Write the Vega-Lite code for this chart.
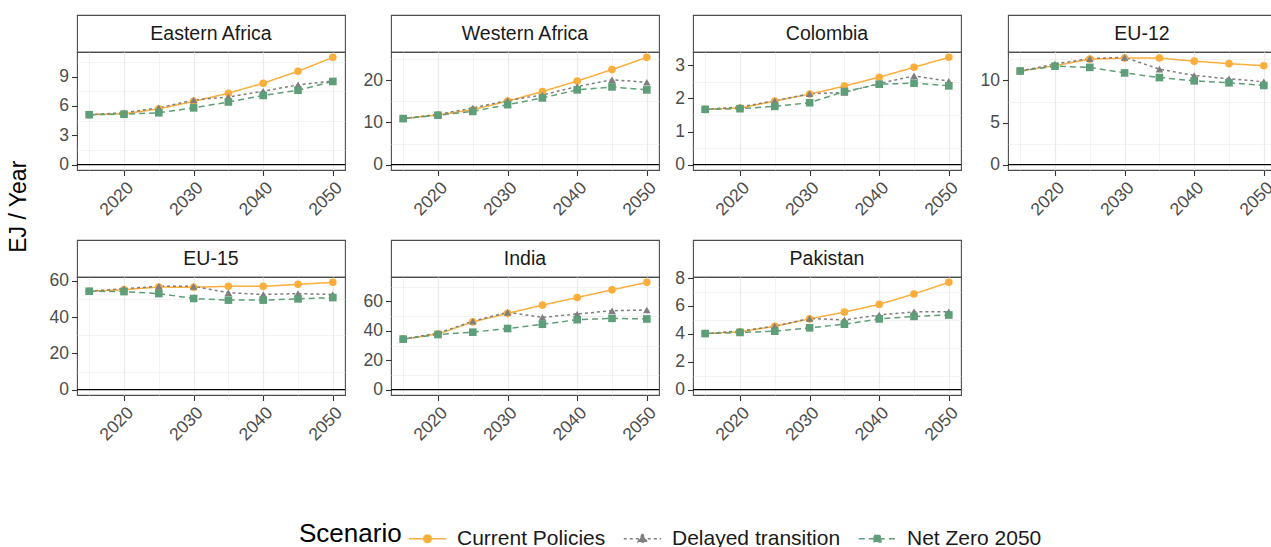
{
  "$schema": "https://vega.github.io/schema/vega-lite/v6.json",
  "padding": {"left": 8, "top": 14, "right": 5, "bottom": 0},
  "background": "white",
  "title": {"text": "EJ / Year", "orient": "left", "anchor": "middle", "fontSize": 23, "fontWeight": "normal", "color": "black", "font": "Liberation Sans", "offset": 11, "dx": 75},
  "datasets": {
    "energy": [
      {"region": "Eastern Africa", "scenario": "Current Policies", "year": 2015, "value": 5.11},
      {"region": "Eastern Africa", "scenario": "Current Policies", "year": 2020, "value": 5.2},
      {"region": "Eastern Africa", "scenario": "Current Policies", "year": 2025, "value": 5.7},
      {"region": "Eastern Africa", "scenario": "Current Policies", "year": 2030, "value": 6.46},
      {"region": "Eastern Africa", "scenario": "Current Policies", "year": 2035, "value": 7.3},
      {"region": "Eastern Africa", "scenario": "Current Policies", "year": 2040, "value": 8.32},
      {"region": "Eastern Africa", "scenario": "Current Policies", "year": 2045, "value": 9.54},
      {"region": "Eastern Africa", "scenario": "Current Policies", "year": 2050, "value": 10.96},
      {"region": "Eastern Africa", "scenario": "Delayed transition", "year": 2015, "value": 5.11},
      {"region": "Eastern Africa", "scenario": "Delayed transition", "year": 2020, "value": 5.3},
      {"region": "Eastern Africa", "scenario": "Delayed transition", "year": 2025, "value": 5.8},
      {"region": "Eastern Africa", "scenario": "Delayed transition", "year": 2030, "value": 6.6},
      {"region": "Eastern Africa", "scenario": "Delayed transition", "year": 2035, "value": 6.9},
      {"region": "Eastern Africa", "scenario": "Delayed transition", "year": 2040, "value": 7.5},
      {"region": "Eastern Africa", "scenario": "Delayed transition", "year": 2045, "value": 8.15},
      {"region": "Eastern Africa", "scenario": "Delayed transition", "year": 2050, "value": 8.55},
      {"region": "Eastern Africa", "scenario": "Net Zero 2050", "year": 2015, "value": 5.1},
      {"region": "Eastern Africa", "scenario": "Net Zero 2050", "year": 2020, "value": 5.15},
      {"region": "Eastern Africa", "scenario": "Net Zero 2050", "year": 2025, "value": 5.3},
      {"region": "Eastern Africa", "scenario": "Net Zero 2050", "year": 2030, "value": 5.8},
      {"region": "Eastern Africa", "scenario": "Net Zero 2050", "year": 2035, "value": 6.4},
      {"region": "Eastern Africa", "scenario": "Net Zero 2050", "year": 2040, "value": 7.07},
      {"region": "Eastern Africa", "scenario": "Net Zero 2050", "year": 2045, "value": 7.6},
      {"region": "Eastern Africa", "scenario": "Net Zero 2050", "year": 2050, "value": 8.5},

      {"region": "Western Africa", "scenario": "Current Policies", "year": 2015, "value": 10.9},
      {"region": "Western Africa", "scenario": "Current Policies", "year": 2020, "value": 11.76},
      {"region": "Western Africa", "scenario": "Current Policies", "year": 2025, "value": 13.0},
      {"region": "Western Africa", "scenario": "Current Policies", "year": 2030, "value": 15.06},
      {"region": "Western Africa", "scenario": "Current Policies", "year": 2035, "value": 17.3},
      {"region": "Western Africa", "scenario": "Current Policies", "year": 2040, "value": 19.8},
      {"region": "Western Africa", "scenario": "Current Policies", "year": 2045, "value": 22.5},
      {"region": "Western Africa", "scenario": "Current Policies", "year": 2050, "value": 25.4},
      {"region": "Western Africa", "scenario": "Delayed transition", "year": 2015, "value": 10.9},
      {"region": "Western Africa", "scenario": "Delayed transition", "year": 2020, "value": 11.9},
      {"region": "Western Africa", "scenario": "Delayed transition", "year": 2025, "value": 13.4},
      {"region": "Western Africa", "scenario": "Delayed transition", "year": 2030, "value": 15.2},
      {"region": "Western Africa", "scenario": "Delayed transition", "year": 2035, "value": 16.5},
      {"region": "Western Africa", "scenario": "Delayed transition", "year": 2040, "value": 18.5},
      {"region": "Western Africa", "scenario": "Delayed transition", "year": 2045, "value": 20.1},
      {"region": "Western Africa", "scenario": "Delayed transition", "year": 2050, "value": 19.5},
      {"region": "Western Africa", "scenario": "Net Zero 2050", "year": 2015, "value": 10.9},
      {"region": "Western Africa", "scenario": "Net Zero 2050", "year": 2020, "value": 11.7},
      {"region": "Western Africa", "scenario": "Net Zero 2050", "year": 2025, "value": 12.6},
      {"region": "Western Africa", "scenario": "Net Zero 2050", "year": 2030, "value": 14.2},
      {"region": "Western Africa", "scenario": "Net Zero 2050", "year": 2035, "value": 15.8},
      {"region": "Western Africa", "scenario": "Net Zero 2050", "year": 2040, "value": 17.7},
      {"region": "Western Africa", "scenario": "Net Zero 2050", "year": 2045, "value": 18.4},
      {"region": "Western Africa", "scenario": "Net Zero 2050", "year": 2050, "value": 17.7},

      {"region": "Colombia", "scenario": "Current Policies", "year": 2015, "value": 1.67},
      {"region": "Colombia", "scenario": "Current Policies", "year": 2020, "value": 1.71},
      {"region": "Colombia", "scenario": "Current Policies", "year": 2025, "value": 1.92},
      {"region": "Colombia", "scenario": "Current Policies", "year": 2030, "value": 2.13},
      {"region": "Colombia", "scenario": "Current Policies", "year": 2035, "value": 2.37},
      {"region": "Colombia", "scenario": "Current Policies", "year": 2040, "value": 2.64},
      {"region": "Colombia", "scenario": "Current Policies", "year": 2045, "value": 2.94},
      {"region": "Colombia", "scenario": "Current Policies", "year": 2050, "value": 3.24},
      {"region": "Colombia", "scenario": "Delayed transition", "year": 2015, "value": 1.67},
      {"region": "Colombia", "scenario": "Delayed transition", "year": 2020, "value": 1.74},
      {"region": "Colombia", "scenario": "Delayed transition", "year": 2025, "value": 1.93},
      {"region": "Colombia", "scenario": "Delayed transition", "year": 2030, "value": 2.14},
      {"region": "Colombia", "scenario": "Delayed transition", "year": 2035, "value": 2.18},
      {"region": "Colombia", "scenario": "Delayed transition", "year": 2040, "value": 2.45},
      {"region": "Colombia", "scenario": "Delayed transition", "year": 2045, "value": 2.68},
      {"region": "Colombia", "scenario": "Delayed transition", "year": 2050, "value": 2.52},
      {"region": "Colombia", "scenario": "Net Zero 2050", "year": 2015, "value": 1.67},
      {"region": "Colombia", "scenario": "Net Zero 2050", "year": 2020, "value": 1.69},
      {"region": "Colombia", "scenario": "Net Zero 2050", "year": 2025, "value": 1.76},
      {"region": "Colombia", "scenario": "Net Zero 2050", "year": 2030, "value": 1.87},
      {"region": "Colombia", "scenario": "Net Zero 2050", "year": 2035, "value": 2.21},
      {"region": "Colombia", "scenario": "Net Zero 2050", "year": 2040, "value": 2.43},
      {"region": "Colombia", "scenario": "Net Zero 2050", "year": 2045, "value": 2.46},
      {"region": "Colombia", "scenario": "Net Zero 2050", "year": 2050, "value": 2.38},

      {"region": "EU-12", "scenario": "Current Policies", "year": 2015, "value": 11.13},
      {"region": "EU-12", "scenario": "Current Policies", "year": 2020, "value": 11.76},
      {"region": "EU-12", "scenario": "Current Policies", "year": 2025, "value": 12.54},
      {"region": "EU-12", "scenario": "Current Policies", "year": 2030, "value": 12.66},
      {"region": "EU-12", "scenario": "Current Policies", "year": 2035, "value": 12.66},
      {"region": "EU-12", "scenario": "Current Policies", "year": 2040, "value": 12.3},
      {"region": "EU-12", "scenario": "Current Policies", "year": 2045, "value": 12.0},
      {"region": "EU-12", "scenario": "Current Policies", "year": 2050, "value": 11.76},
      {"region": "EU-12", "scenario": "Delayed transition", "year": 2015, "value": 11.13},
      {"region": "EU-12", "scenario": "Delayed transition", "year": 2020, "value": 11.95},
      {"region": "EU-12", "scenario": "Delayed transition", "year": 2025, "value": 12.6},
      {"region": "EU-12", "scenario": "Delayed transition", "year": 2030, "value": 12.75},
      {"region": "EU-12", "scenario": "Delayed transition", "year": 2035, "value": 11.35},
      {"region": "EU-12", "scenario": "Delayed transition", "year": 2040, "value": 10.6},
      {"region": "EU-12", "scenario": "Delayed transition", "year": 2045, "value": 10.2},
      {"region": "EU-12", "scenario": "Delayed transition", "year": 2050, "value": 9.85},
      {"region": "EU-12", "scenario": "Net Zero 2050", "year": 2015, "value": 11.13},
      {"region": "EU-12", "scenario": "Net Zero 2050", "year": 2020, "value": 11.7},
      {"region": "EU-12", "scenario": "Net Zero 2050", "year": 2025, "value": 11.56},
      {"region": "EU-12", "scenario": "Net Zero 2050", "year": 2030, "value": 10.9},
      {"region": "EU-12", "scenario": "Net Zero 2050", "year": 2035, "value": 10.35},
      {"region": "EU-12", "scenario": "Net Zero 2050", "year": 2040, "value": 9.96},
      {"region": "EU-12", "scenario": "Net Zero 2050", "year": 2045, "value": 9.73},
      {"region": "EU-12", "scenario": "Net Zero 2050", "year": 2050, "value": 9.41},

      {"region": "EU-15", "scenario": "Current Policies", "year": 2015, "value": 54.3},
      {"region": "EU-15", "scenario": "Current Policies", "year": 2020, "value": 55.2},
      {"region": "EU-15", "scenario": "Current Policies", "year": 2025, "value": 56.6},
      {"region": "EU-15", "scenario": "Current Policies", "year": 2030, "value": 56.5},
      {"region": "EU-15", "scenario": "Current Policies", "year": 2035, "value": 57.0},
      {"region": "EU-15", "scenario": "Current Policies", "year": 2040, "value": 57.0},
      {"region": "EU-15", "scenario": "Current Policies", "year": 2045, "value": 58.1},
      {"region": "EU-15", "scenario": "Current Policies", "year": 2050, "value": 59.2},
      {"region": "EU-15", "scenario": "Delayed transition", "year": 2015, "value": 54.3},
      {"region": "EU-15", "scenario": "Delayed transition", "year": 2020, "value": 55.7},
      {"region": "EU-15", "scenario": "Delayed transition", "year": 2025, "value": 57.0},
      {"region": "EU-15", "scenario": "Delayed transition", "year": 2030, "value": 57.0},
      {"region": "EU-15", "scenario": "Delayed transition", "year": 2035, "value": 53.5},
      {"region": "EU-15", "scenario": "Delayed transition", "year": 2040, "value": 52.5},
      {"region": "EU-15", "scenario": "Delayed transition", "year": 2045, "value": 53.0},
      {"region": "EU-15", "scenario": "Delayed transition", "year": 2050, "value": 52.5},
      {"region": "EU-15", "scenario": "Net Zero 2050", "year": 2015, "value": 54.3},
      {"region": "EU-15", "scenario": "Net Zero 2050", "year": 2020, "value": 54.1},
      {"region": "EU-15", "scenario": "Net Zero 2050", "year": 2025, "value": 53.0},
      {"region": "EU-15", "scenario": "Net Zero 2050", "year": 2030, "value": 50.3},
      {"region": "EU-15", "scenario": "Net Zero 2050", "year": 2035, "value": 49.4},
      {"region": "EU-15", "scenario": "Net Zero 2050", "year": 2040, "value": 49.4},
      {"region": "EU-15", "scenario": "Net Zero 2050", "year": 2045, "value": 50.1},
      {"region": "EU-15", "scenario": "Net Zero 2050", "year": 2050, "value": 50.8},

      {"region": "India", "scenario": "Current Policies", "year": 2015, "value": 34.4},
      {"region": "India", "scenario": "Current Policies", "year": 2020, "value": 37.8},
      {"region": "India", "scenario": "Current Policies", "year": 2025, "value": 46.1},
      {"region": "India", "scenario": "Current Policies", "year": 2030, "value": 51.9},
      {"region": "India", "scenario": "Current Policies", "year": 2035, "value": 57.5},
      {"region": "India", "scenario": "Current Policies", "year": 2040, "value": 62.7},
      {"region": "India", "scenario": "Current Policies", "year": 2045, "value": 67.9},
      {"region": "India", "scenario": "Current Policies", "year": 2050, "value": 73.0},
      {"region": "India", "scenario": "Delayed transition", "year": 2015, "value": 34.4},
      {"region": "India", "scenario": "Delayed transition", "year": 2020, "value": 38.4},
      {"region": "India", "scenario": "Delayed transition", "year": 2025, "value": 46.5},
      {"region": "India", "scenario": "Delayed transition", "year": 2030, "value": 52.6},
      {"region": "India", "scenario": "Delayed transition", "year": 2035, "value": 49.2},
      {"region": "India", "scenario": "Delayed transition", "year": 2040, "value": 51.5},
      {"region": "India", "scenario": "Delayed transition", "year": 2045, "value": 53.7},
      {"region": "India", "scenario": "Delayed transition", "year": 2050, "value": 54.2},
      {"region": "India", "scenario": "Net Zero 2050", "year": 2015, "value": 34.4},
      {"region": "India", "scenario": "Net Zero 2050", "year": 2020, "value": 37.5},
      {"region": "India", "scenario": "Net Zero 2050", "year": 2025, "value": 39.1},
      {"region": "India", "scenario": "Net Zero 2050", "year": 2030, "value": 41.6},
      {"region": "India", "scenario": "Net Zero 2050", "year": 2035, "value": 44.5},
      {"region": "India", "scenario": "Net Zero 2050", "year": 2040, "value": 47.6},
      {"region": "India", "scenario": "Net Zero 2050", "year": 2045, "value": 48.5},
      {"region": "India", "scenario": "Net Zero 2050", "year": 2050, "value": 48.1},

      {"region": "Pakistan", "scenario": "Current Policies", "year": 2015, "value": 4.02},
      {"region": "Pakistan", "scenario": "Current Policies", "year": 2020, "value": 4.14},
      {"region": "Pakistan", "scenario": "Current Policies", "year": 2025, "value": 4.54},
      {"region": "Pakistan", "scenario": "Current Policies", "year": 2030, "value": 5.07},
      {"region": "Pakistan", "scenario": "Current Policies", "year": 2035, "value": 5.56},
      {"region": "Pakistan", "scenario": "Current Policies", "year": 2040, "value": 6.11},
      {"region": "Pakistan", "scenario": "Current Policies", "year": 2045, "value": 6.86},
      {"region": "Pakistan", "scenario": "Current Policies", "year": 2050, "value": 7.69},
      {"region": "Pakistan", "scenario": "Delayed transition", "year": 2015, "value": 4.02},
      {"region": "Pakistan", "scenario": "Delayed transition", "year": 2020, "value": 4.2},
      {"region": "Pakistan", "scenario": "Delayed transition", "year": 2025, "value": 4.55},
      {"region": "Pakistan", "scenario": "Delayed transition", "year": 2030, "value": 5.1},
      {"region": "Pakistan", "scenario": "Delayed transition", "year": 2035, "value": 5.0},
      {"region": "Pakistan", "scenario": "Delayed transition", "year": 2040, "value": 5.35},
      {"region": "Pakistan", "scenario": "Delayed transition", "year": 2045, "value": 5.58},
      {"region": "Pakistan", "scenario": "Delayed transition", "year": 2050, "value": 5.58},
      {"region": "Pakistan", "scenario": "Net Zero 2050", "year": 2015, "value": 4.02},
      {"region": "Pakistan", "scenario": "Net Zero 2050", "year": 2020, "value": 4.1},
      {"region": "Pakistan", "scenario": "Net Zero 2050", "year": 2025, "value": 4.19},
      {"region": "Pakistan", "scenario": "Net Zero 2050", "year": 2030, "value": 4.43},
      {"region": "Pakistan", "scenario": "Net Zero 2050", "year": 2035, "value": 4.69},
      {"region": "Pakistan", "scenario": "Net Zero 2050", "year": 2040, "value": 5.07},
      {"region": "Pakistan", "scenario": "Net Zero 2050", "year": 2045, "value": 5.25},
      {"region": "Pakistan", "scenario": "Net Zero 2050", "year": 2050, "value": 5.35}
    ]
  },
  "data": {"name": "energy"},
  "columns": 4,
  "spacing": {"row": 20, "column": 9},
  "resolve": {"scale": {"x": "independent", "y": "independent", "color": "shared"}},
  "concat": [
    {
      "spacing": 0, "bounds": "flush",
      "vconcat": [
        {"width": 268, "height": 37, "view": {"stroke": "#4d4d4d", "strokeWidth": 1.1, "fill": "white"},
         "transform": [{"filter": "datum.region === 'Eastern Africa'"}, {"aggregate": [{"op": "count", "as": "n"}], "groupby": ["region"]}],
         "mark": {"type": "text", "fontSize": 19.5, "color": "#1a1a1a"},
         "encoding": {"text": {"field": "region"}}},
        {"width": 268, "height": 118,
         "resolve": {"axis": {"x": "independent", "y": "independent"}},
         "layer": [
           {"data": {"values": [{"base": 0}]}, "mark": {"type": "rule", "color": "black", "strokeWidth": 1.4},
            "encoding": {"y": {"field": "base", "type": "quantitative", "title": null, "axis": {"orient": "left", "values": [1.5, 4.5, 7.5, 10.5], "labels": false, "ticks": false, "domain": false, "grid": true, "gridWidth": 0.6}}}},
           {"transform": [{"filter": "datum.region === 'Eastern Africa'"}],
            "mark": {"type": "line", "strokeWidth": 1.5},
            "encoding": {
              "x": {"field": "year", "type": "quantitative", "title": null, "scale": {"nice": false, "zero": false, "padding": 12.18},
                    "axis": {"orient": "bottom", "values": [2020, 2030, 2040, 2050], "format": "d", "labelAngle": -45, "labelAlign": "right", "labelBaseline": "top"}},
              "y": {"field": "value", "type": "quantitative", "title": null, "scale": {"nice": false, "zero": false, "padding": 5.36},
                    "axis": {"orient": "left", "values": [0, 3, 6, 9], "format": "d", "minExtent": 34}},
              "color": {"field": "scenario", "type": "nominal", "scale": {"domain": ["Current Policies", "Delayed transition", "Net Zero 2050"], "range": ["#FBAE3C", "#7F7F7F", "#5E9E78"]},
                        "legend": {"title": "Scenario", "orient": "none", "legendX": 222, "legendY": 504, "direction": "horizontal", "titleOrient": "left", "titleFontSize": 26, "titleFontWeight": "normal", "titleColor": "black", "titlePadding": 6, "titleFont": "Liberation Sans", "labelFont": "Liberation Sans", "labelFontSize": 21, "labelLimit": 400, "labelColor": "#1a1a1a", "labelOffset": 10, "columnPadding": 14, "symbolSize": 1400, "symbolStrokeWidth": 1.5,
                                   "encode": {"symbols": {"update": {
                                     "shape": {"signal": "datum.value === 'Current Policies' ? 'M-1,0H1M0.2,0A0.2,0.2,0,1,1,-0.2,0A0.2,0.2,0,1,1,0.2,0Z' : datum.value === 'Delayed transition' ? 'M-1,0H1M0,-0.26L0.24,0.17L-0.24,0.17Z' : 'M-1,0H1M-0.18,-0.18H0.18V0.18H-0.18Z'"},
                                     "fill": {"signal": "datum.value === 'Current Policies' ? '#FBAE3C' : datum.value === 'Delayed transition' ? '#7F7F7F' : '#5E9E78'"},
                                     "stroke": {"signal": "datum.value === 'Current Policies' ? '#FBAE3C' : datum.value === 'Delayed transition' ? '#7F7F7F' : '#5E9E78'"},
                                     "strokeDash": {"signal": "datum.value === 'Delayed transition' ? [3, 3] : datum.value === 'Net Zero 2050' ? [6, 4] : [1, 0]"}
                                   }}}}},
              "strokeDash": {"condition": [{"test": "datum.scenario === 'Delayed transition'", "value": [3, 3]}, {"test": "datum.scenario === 'Net Zero 2050'", "value": [6, 4]}], "value": [1, 0]}
            }},
           {"transform": [{"filter": "datum.region === 'Eastern Africa'"}],
            "mark": {"type": "point", "filled": true, "size": 58, "opacity": 1},
            "encoding": {
              "x": {"field": "year", "type": "quantitative", "title": null, "axis": {"orient": "bottom", "values": [2015, 2025, 2035, 2045], "labels": false, "ticks": false, "domain": false, "grid": true, "gridWidth": 0.6}},
              "y": {"field": "value", "type": "quantitative", "title": null, "axis": null},
              "color": {"field": "scenario", "type": "nominal", "scale": {"domain": ["Current Policies", "Delayed transition", "Net Zero 2050"], "range": ["#FBAE3C", "#7F7F7F", "#5E9E78"]}, "legend": null},
              "shape": {"condition": [{"test": "datum.scenario === 'Delayed transition'", "value": "triangle-up"}, {"test": "datum.scenario === 'Net Zero 2050'", "value": "square"}], "value": "circle"}
            }}
         ]}
      ]
    },
    {
      "spacing": 0, "bounds": "flush",
      "vconcat": [
        {"width": 268, "height": 37, "view": {"stroke": "#4d4d4d", "strokeWidth": 1.1, "fill": "white"},
         "transform": [{"filter": "datum.region === 'Western Africa'"}, {"aggregate": [{"op": "count", "as": "n"}], "groupby": ["region"]}],
         "mark": {"type": "text", "fontSize": 19.5, "color": "#1a1a1a"},
         "encoding": {"text": {"field": "region"}}},
        {"width": 268, "height": 118,
         "resolve": {"axis": {"x": "independent", "y": "independent"}},
         "layer": [
           {"data": {"values": [{"base": 0}]}, "mark": {"type": "rule", "color": "black", "strokeWidth": 1.4},
            "encoding": {"y": {"field": "base", "type": "quantitative", "title": null, "axis": {"orient": "left", "values": [5, 15, 25], "labels": false, "ticks": false, "domain": false, "grid": true, "gridWidth": 0.6}}}},
           {"transform": [{"filter": "datum.region === 'Western Africa'"}],
            "mark": {"type": "line", "strokeWidth": 1.5},
            "encoding": {
              "x": {"field": "year", "type": "quantitative", "title": null, "scale": {"nice": false, "zero": false, "padding": 12.18},
                    "axis": {"orient": "bottom", "values": [2020, 2030, 2040, 2050], "format": "d", "labelAngle": -45, "labelAlign": "right", "labelBaseline": "top"}},
              "y": {"field": "value", "type": "quantitative", "title": null, "scale": {"nice": false, "zero": false, "padding": 5.36},
                    "axis": {"orient": "left", "values": [0, 10, 20], "format": "d", "minExtent": 34}},
              "color": {"field": "scenario", "type": "nominal", "scale": {"domain": ["Current Policies", "Delayed transition", "Net Zero 2050"], "range": ["#FBAE3C", "#7F7F7F", "#5E9E78"]}, "legend": null},
              "strokeDash": {"condition": [{"test": "datum.scenario === 'Delayed transition'", "value": [3, 3]}, {"test": "datum.scenario === 'Net Zero 2050'", "value": [6, 4]}], "value": [1, 0]}
            }},
           {"transform": [{"filter": "datum.region === 'Western Africa'"}],
            "mark": {"type": "point", "filled": true, "size": 58, "opacity": 1},
            "encoding": {
              "x": {"field": "year", "type": "quantitative", "title": null, "axis": {"orient": "bottom", "values": [2015, 2025, 2035, 2045], "labels": false, "ticks": false, "domain": false, "grid": true, "gridWidth": 0.6}},
              "y": {"field": "value", "type": "quantitative", "title": null, "axis": null},
              "color": {"field": "scenario", "type": "nominal", "scale": {"domain": ["Current Policies", "Delayed transition", "Net Zero 2050"], "range": ["#FBAE3C", "#7F7F7F", "#5E9E78"]}, "legend": null},
              "shape": {"condition": [{"test": "datum.scenario === 'Delayed transition'", "value": "triangle-up"}, {"test": "datum.scenario === 'Net Zero 2050'", "value": "square"}], "value": "circle"}
            }}
         ]}
      ]
    },
    {
      "spacing": 0, "bounds": "flush",
      "vconcat": [
        {"width": 268, "height": 37, "view": {"stroke": "#4d4d4d", "strokeWidth": 1.1, "fill": "white"},
         "transform": [{"filter": "datum.region === 'Colombia'"}, {"aggregate": [{"op": "count", "as": "n"}], "groupby": ["region"]}],
         "mark": {"type": "text", "fontSize": 19.5, "color": "#1a1a1a"},
         "encoding": {"text": {"field": "region"}}},
        {"width": 268, "height": 118,
         "resolve": {"axis": {"x": "independent", "y": "independent"}},
         "layer": [
           {"data": {"values": [{"base": 0}]}, "mark": {"type": "rule", "color": "black", "strokeWidth": 1.4},
            "encoding": {"y": {"field": "base", "type": "quantitative", "title": null, "axis": {"orient": "left", "values": [0.5, 1.5, 2.5], "labels": false, "ticks": false, "domain": false, "grid": true, "gridWidth": 0.6}}}},
           {"transform": [{"filter": "datum.region === 'Colombia'"}],
            "mark": {"type": "line", "strokeWidth": 1.5},
            "encoding": {
              "x": {"field": "year", "type": "quantitative", "title": null, "scale": {"nice": false, "zero": false, "padding": 12.18},
                    "axis": {"orient": "bottom", "values": [2020, 2030, 2040, 2050], "format": "d", "labelAngle": -45, "labelAlign": "right", "labelBaseline": "top"}},
              "y": {"field": "value", "type": "quantitative", "title": null, "scale": {"nice": false, "zero": false, "padding": 5.36},
                    "axis": {"orient": "left", "values": [0, 1, 2, 3], "format": "d", "minExtent": 22}},
              "color": {"field": "scenario", "type": "nominal", "scale": {"domain": ["Current Policies", "Delayed transition", "Net Zero 2050"], "range": ["#FBAE3C", "#7F7F7F", "#5E9E78"]}, "legend": null},
              "strokeDash": {"condition": [{"test": "datum.scenario === 'Delayed transition'", "value": [3, 3]}, {"test": "datum.scenario === 'Net Zero 2050'", "value": [6, 4]}], "value": [1, 0]}
            }},
           {"transform": [{"filter": "datum.region === 'Colombia'"}],
            "mark": {"type": "point", "filled": true, "size": 58, "opacity": 1},
            "encoding": {
              "x": {"field": "year", "type": "quantitative", "title": null, "axis": {"orient": "bottom", "values": [2015, 2025, 2035, 2045], "labels": false, "ticks": false, "domain": false, "grid": true, "gridWidth": 0.6}},
              "y": {"field": "value", "type": "quantitative", "title": null, "axis": null},
              "color": {"field": "scenario", "type": "nominal", "scale": {"domain": ["Current Policies", "Delayed transition", "Net Zero 2050"], "range": ["#FBAE3C", "#7F7F7F", "#5E9E78"]}, "legend": null},
              "shape": {"condition": [{"test": "datum.scenario === 'Delayed transition'", "value": "triangle-up"}, {"test": "datum.scenario === 'Net Zero 2050'", "value": "square"}], "value": "circle"}
            }}
         ]}
      ]
    },
    {
      "spacing": 0, "bounds": "flush",
      "vconcat": [
        {"width": 268, "height": 37, "view": {"stroke": "#4d4d4d", "strokeWidth": 1.1, "fill": "white"},
         "transform": [{"filter": "datum.region === 'EU-12'"}, {"aggregate": [{"op": "count", "as": "n"}], "groupby": ["region"]}],
         "mark": {"type": "text", "fontSize": 19.5, "color": "#1a1a1a"},
         "encoding": {"text": {"field": "region"}}},
        {"width": 268, "height": 118,
         "resolve": {"axis": {"x": "independent", "y": "independent"}},
         "layer": [
           {"data": {"values": [{"base": 0}]}, "mark": {"type": "rule", "color": "black", "strokeWidth": 1.4},
            "encoding": {"y": {"field": "base", "type": "quantitative", "title": null, "axis": {"orient": "left", "values": [2.5, 7.5, 12.5], "labels": false, "ticks": false, "domain": false, "grid": true, "gridWidth": 0.6}}}},
           {"transform": [{"filter": "datum.region === 'EU-12'"}],
            "mark": {"type": "line", "strokeWidth": 1.5},
            "encoding": {
              "x": {"field": "year", "type": "quantitative", "title": null, "scale": {"nice": false, "zero": false, "padding": 12.18},
                    "axis": {"orient": "bottom", "values": [2020, 2030, 2040, 2050], "format": "d", "labelAngle": -45, "labelAlign": "right", "labelBaseline": "top"}},
              "y": {"field": "value", "type": "quantitative", "title": null, "scale": {"nice": false, "zero": false, "padding": 5.36},
                    "axis": {"orient": "left", "values": [0, 5, 10], "format": "d", "minExtent": 35}},
              "color": {"field": "scenario", "type": "nominal", "scale": {"domain": ["Current Policies", "Delayed transition", "Net Zero 2050"], "range": ["#FBAE3C", "#7F7F7F", "#5E9E78"]}, "legend": null},
              "strokeDash": {"condition": [{"test": "datum.scenario === 'Delayed transition'", "value": [3, 3]}, {"test": "datum.scenario === 'Net Zero 2050'", "value": [6, 4]}], "value": [1, 0]}
            }},
           {"transform": [{"filter": "datum.region === 'EU-12'"}],
            "mark": {"type": "point", "filled": true, "size": 58, "opacity": 1},
            "encoding": {
              "x": {"field": "year", "type": "quantitative", "title": null, "axis": {"orient": "bottom", "values": [2015, 2025, 2035, 2045], "labels": false, "ticks": false, "domain": false, "grid": true, "gridWidth": 0.6}},
              "y": {"field": "value", "type": "quantitative", "title": null, "axis": null},
              "color": {"field": "scenario", "type": "nominal", "scale": {"domain": ["Current Policies", "Delayed transition", "Net Zero 2050"], "range": ["#FBAE3C", "#7F7F7F", "#5E9E78"]}, "legend": null},
              "shape": {"condition": [{"test": "datum.scenario === 'Delayed transition'", "value": "triangle-up"}, {"test": "datum.scenario === 'Net Zero 2050'", "value": "square"}], "value": "circle"}
            }}
         ]}
      ]
    },
    {
      "spacing": 0, "bounds": "flush",
      "vconcat": [
        {"width": 268, "height": 37, "view": {"stroke": "#4d4d4d", "strokeWidth": 1.1, "fill": "white"},
         "transform": [{"filter": "datum.region === 'EU-15'"}, {"aggregate": [{"op": "count", "as": "n"}], "groupby": ["region"]}],
         "mark": {"type": "text", "fontSize": 19.5, "color": "#1a1a1a"},
         "encoding": {"text": {"field": "region"}}},
        {"width": 268, "height": 118,
         "resolve": {"axis": {"x": "independent", "y": "independent"}},
         "layer": [
           {"data": {"values": [{"base": 0}]}, "mark": {"type": "rule", "color": "black", "strokeWidth": 1.4},
            "encoding": {"y": {"field": "base", "type": "quantitative", "title": null, "axis": {"orient": "left", "values": [10, 30, 50], "labels": false, "ticks": false, "domain": false, "grid": true, "gridWidth": 0.6}}}},
           {"transform": [{"filter": "datum.region === 'EU-15'"}],
            "mark": {"type": "line", "strokeWidth": 1.5},
            "encoding": {
              "x": {"field": "year", "type": "quantitative", "title": null, "scale": {"nice": false, "zero": false, "padding": 12.18},
                    "axis": {"orient": "bottom", "values": [2020, 2030, 2040, 2050], "format": "d", "labelAngle": -45, "labelAlign": "right", "labelBaseline": "top"}},
              "y": {"field": "value", "type": "quantitative", "title": null, "scale": {"nice": false, "zero": false, "padding": 5.36},
                    "axis": {"orient": "left", "values": [0, 20, 40, 60], "format": "d", "minExtent": 34}},
              "color": {"field": "scenario", "type": "nominal", "scale": {"domain": ["Current Policies", "Delayed transition", "Net Zero 2050"], "range": ["#FBAE3C", "#7F7F7F", "#5E9E78"]}, "legend": null},
              "strokeDash": {"condition": [{"test": "datum.scenario === 'Delayed transition'", "value": [3, 3]}, {"test": "datum.scenario === 'Net Zero 2050'", "value": [6, 4]}], "value": [1, 0]}
            }},
           {"transform": [{"filter": "datum.region === 'EU-15'"}],
            "mark": {"type": "point", "filled": true, "size": 58, "opacity": 1},
            "encoding": {
              "x": {"field": "year", "type": "quantitative", "title": null, "axis": {"orient": "bottom", "values": [2015, 2025, 2035, 2045], "labels": false, "ticks": false, "domain": false, "grid": true, "gridWidth": 0.6}},
              "y": {"field": "value", "type": "quantitative", "title": null, "axis": null},
              "color": {"field": "scenario", "type": "nominal", "scale": {"domain": ["Current Policies", "Delayed transition", "Net Zero 2050"], "range": ["#FBAE3C", "#7F7F7F", "#5E9E78"]}, "legend": null},
              "shape": {"condition": [{"test": "datum.scenario === 'Delayed transition'", "value": "triangle-up"}, {"test": "datum.scenario === 'Net Zero 2050'", "value": "square"}], "value": "circle"}
            }}
         ]}
      ]
    },
    {
      "spacing": 0, "bounds": "flush",
      "vconcat": [
        {"width": 268, "height": 37, "view": {"stroke": "#4d4d4d", "strokeWidth": 1.1, "fill": "white"},
         "transform": [{"filter": "datum.region === 'India'"}, {"aggregate": [{"op": "count", "as": "n"}], "groupby": ["region"]}],
         "mark": {"type": "text", "fontSize": 19.5, "color": "#1a1a1a"},
         "encoding": {"text": {"field": "region"}}},
        {"width": 268, "height": 118,
         "resolve": {"axis": {"x": "independent", "y": "independent"}},
         "layer": [
           {"data": {"values": [{"base": 0}]}, "mark": {"type": "rule", "color": "black", "strokeWidth": 1.4},
            "encoding": {"y": {"field": "base", "type": "quantitative", "title": null, "axis": {"orient": "left", "values": [10, 30, 50, 70], "labels": false, "ticks": false, "domain": false, "grid": true, "gridWidth": 0.6}}}},
           {"transform": [{"filter": "datum.region === 'India'"}],
            "mark": {"type": "line", "strokeWidth": 1.5},
            "encoding": {
              "x": {"field": "year", "type": "quantitative", "title": null, "scale": {"nice": false, "zero": false, "padding": 12.18},
                    "axis": {"orient": "bottom", "values": [2020, 2030, 2040, 2050], "format": "d", "labelAngle": -45, "labelAlign": "right", "labelBaseline": "top"}},
              "y": {"field": "value", "type": "quantitative", "title": null, "scale": {"nice": false, "zero": false, "padding": 5.36},
                    "axis": {"orient": "left", "values": [0, 20, 40, 60], "format": "d", "minExtent": 34}},
              "color": {"field": "scenario", "type": "nominal", "scale": {"domain": ["Current Policies", "Delayed transition", "Net Zero 2050"], "range": ["#FBAE3C", "#7F7F7F", "#5E9E78"]}, "legend": null},
              "strokeDash": {"condition": [{"test": "datum.scenario === 'Delayed transition'", "value": [3, 3]}, {"test": "datum.scenario === 'Net Zero 2050'", "value": [6, 4]}], "value": [1, 0]}
            }},
           {"transform": [{"filter": "datum.region === 'India'"}],
            "mark": {"type": "point", "filled": true, "size": 58, "opacity": 1},
            "encoding": {
              "x": {"field": "year", "type": "quantitative", "title": null, "axis": {"orient": "bottom", "values": [2015, 2025, 2035, 2045], "labels": false, "ticks": false, "domain": false, "grid": true, "gridWidth": 0.6}},
              "y": {"field": "value", "type": "quantitative", "title": null, "axis": null},
              "color": {"field": "scenario", "type": "nominal", "scale": {"domain": ["Current Policies", "Delayed transition", "Net Zero 2050"], "range": ["#FBAE3C", "#7F7F7F", "#5E9E78"]}, "legend": null},
              "shape": {"condition": [{"test": "datum.scenario === 'Delayed transition'", "value": "triangle-up"}, {"test": "datum.scenario === 'Net Zero 2050'", "value": "square"}], "value": "circle"}
            }}
         ]}
      ]
    },
    {
      "spacing": 0, "bounds": "flush",
      "vconcat": [
        {"width": 268, "height": 37, "view": {"stroke": "#4d4d4d", "strokeWidth": 1.1, "fill": "white"},
         "transform": [{"filter": "datum.region === 'Pakistan'"}, {"aggregate": [{"op": "count", "as": "n"}], "groupby": ["region"]}],
         "mark": {"type": "text", "fontSize": 19.5, "color": "#1a1a1a"},
         "encoding": {"text": {"field": "region"}}},
        {"width": 268, "height": 118,
         "resolve": {"axis": {"x": "independent", "y": "independent"}},
         "layer": [
           {"data": {"values": [{"base": 0}]}, "mark": {"type": "rule", "color": "black", "strokeWidth": 1.4},
            "encoding": {"y": {"field": "base", "type": "quantitative", "title": null, "axis": {"orient": "left", "values": [1, 3, 5, 7], "labels": false, "ticks": false, "domain": false, "grid": true, "gridWidth": 0.6}}}},
           {"transform": [{"filter": "datum.region === 'Pakistan'"}],
            "mark": {"type": "line", "strokeWidth": 1.5},
            "encoding": {
              "x": {"field": "year", "type": "quantitative", "title": null, "scale": {"nice": false, "zero": false, "padding": 12.18},
                    "axis": {"orient": "bottom", "values": [2020, 2030, 2040, 2050], "format": "d", "labelAngle": -45, "labelAlign": "right", "labelBaseline": "top"}},
              "y": {"field": "value", "type": "quantitative", "title": null, "scale": {"nice": false, "zero": false, "padding": 5.36},
                    "axis": {"orient": "left", "values": [0, 2, 4, 6, 8], "format": "d", "minExtent": 22}},
              "color": {"field": "scenario", "type": "nominal", "scale": {"domain": ["Current Policies", "Delayed transition", "Net Zero 2050"], "range": ["#FBAE3C", "#7F7F7F", "#5E9E78"]}, "legend": null},
              "strokeDash": {"condition": [{"test": "datum.scenario === 'Delayed transition'", "value": [3, 3]}, {"test": "datum.scenario === 'Net Zero 2050'", "value": [6, 4]}], "value": [1, 0]}
            }},
           {"transform": [{"filter": "datum.region === 'Pakistan'"}],
            "mark": {"type": "point", "filled": true, "size": 58, "opacity": 1},
            "encoding": {
              "x": {"field": "year", "type": "quantitative", "title": null, "axis": {"orient": "bottom", "values": [2015, 2025, 2035, 2045], "labels": false, "ticks": false, "domain": false, "grid": true, "gridWidth": 0.6}},
              "y": {"field": "value", "type": "quantitative", "title": null, "axis": null},
              "color": {"field": "scenario", "type": "nominal", "scale": {"domain": ["Current Policies", "Delayed transition", "Net Zero 2050"], "range": ["#FBAE3C", "#7F7F7F", "#5E9E78"]}, "legend": null},
              "shape": {"condition": [{"test": "datum.scenario === 'Delayed transition'", "value": "triangle-up"}, {"test": "datum.scenario === 'Net Zero 2050'", "value": "square"}], "value": "circle"}
            }}
         ]}
      ]
    }
  ],
  "config": {
    "font": "Liberation Sans",
    "view": {"stroke": "#4d4d4d", "strokeWidth": 1.1, "fill": "white"},
    "axis": {"labelFont": "Liberation Sans", "labelFontSize": 17.5, "labelColor": "#4d4d4d", "tickColor": "#333333", "tickSize": 5.5, "tickWidth": 1.1, "domain": false, "gridColor": "#ebebeb", "gridWidth": 1.2, "labelPadding": 3, "labelOverlap": false, "labelFlush": false}
  }
}
